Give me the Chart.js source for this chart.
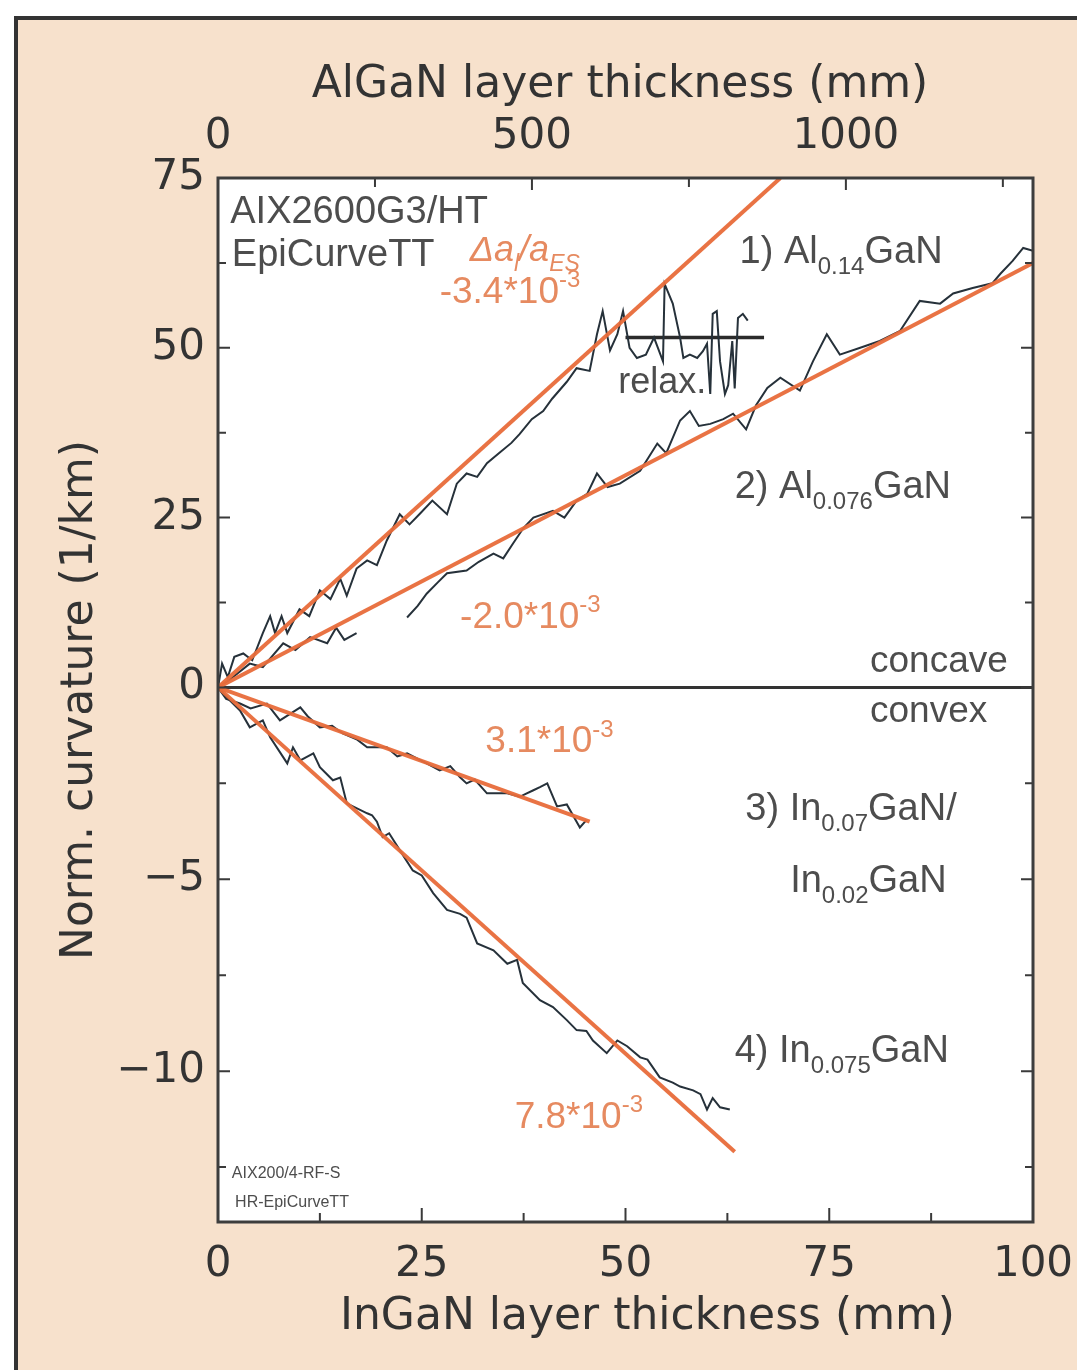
<!DOCTYPE html>
<html>
<head>
<meta charset="utf-8">
<script src="https://cdn.jsdelivr.net/npm/chart.js@4.4.0/dist/chart.umd.min.js"></script>
<style>
  html, body { margin: 0; padding: 0; background: #fff; }
  #panel { position: absolute; left: 14px; top: 16px; width: 1063px; height: 1354px;
           background: #f7e1cc; border-left: 4px solid #333; border-top: 4px solid #333; box-sizing: border-box; }
  #wrap { position: absolute; left: 0; top: 0; width: 1077px; height: 1370px; }
</style>
</head>
<body>
<div id="panel"></div>
<div id="wrap"><canvas id="curvature-graph" width="1077" height="1370"></canvas></div>
<script>
// 1) Al0.14GaN, x = InGaN-axis thickness, y = norm. curvature
var al14X = [0, 0.5, 1.2, 2.0, 3.1, 4.2, 5.5, 6.4, 7.0, 7.8, 8.5, 10.0, 11.2, 12.5, 13.8, 15.0, 15.8, 17.0, 18.3, 19.5, 20.7, 22.3, 23.5, 24.8, 26.3, 28.1, 29.3, 30.5, 31.8, 33.0, 34.5, 36.0, 37.0, 38.5, 39.9, 41.0, 42.8, 44.0, 45.6, 46.5, 47.2, 48.1, 49.0, 49.7, 50.5, 51.4, 52.5, 53.5, 54.6, 54.8, 55.8, 56.7, 57.1, 57.9, 58.8, 59.5, 60.0, 60.4, 60.7, 61.2, 61.6, 62.2, 62.6, 63.1, 63.4, 63.8, 64.4, 65.0];
var al14Y = [0, 3.5, 1.5, 4.5, 5.0, 4.0, 8.0, 10.5, 8.0, 10.5, 8.0, 11.5, 10.5, 14.3, 13.0, 16.0, 13.5, 17.5, 18.7, 18.0, 21.6, 25.5, 24.0, 25.6, 27.5, 25.5, 30.0, 31.5, 31.0, 33.0, 34.5, 36.0, 37.3, 39.5, 40.7, 42.5, 45.0, 47.0, 46.6, 52.0, 55.4, 49.6, 52.0, 55.4, 50.0, 48.5, 49.0, 51.5, 48.0, 59.4, 56.5, 51.5, 48.5, 49.0, 48.5, 49.5, 50.6, 43.2, 55.0, 55.4, 48.0, 43.2, 44.5, 51.0, 44.0, 54.4, 55.0, 54.0];

// 2) Al0.076GaN
var al076X = [0, 1.5, 3.9, 5.5, 8.0, 9.5, 11.3, 13.4, 14.5, 15.5, 17.0, 20.0, 23.2, 24.5, 25.6, 27.0, 28.1, 30.5, 32.0, 33.8, 35.0, 36.2, 37.5, 38.7, 41.1, 42.5, 44.0, 45.3, 46.5, 47.8, 49.3, 51.8, 53.9, 55.0, 56.7, 57.9, 59.0, 60.4, 62.0, 63.2, 64.8, 66.0, 67.4, 69.0, 71.4, 73.0, 74.7, 76.3, 78.8, 81.2, 83.7, 86.1, 88.6, 90.2, 92.6, 95.0, 96.0, 97.5, 98.8, 100];
var al076Y = [0, 1.2, 3.5, 3.0, 6.5, 5.5, 7.4, 6.5, 8.8, 7.0, 8.0, null, 10.3, 12.0, 13.8, 15.5, 16.8, 17.2, 18.5, 19.7, 19.0, 21.2, 23.5, 25.0, 26.0, 25.0, 27.5, 28.5, 31.5, 29.5, 30.0, 31.9, 35.9, 34.5, 39.3, 40.7, 38.5, 38.8, 39.5, 40.3, 38.0, 41.5, 44.1, 45.6, 43.7, 48.0, 52.0, 49.0, 50.0, 51.0, 52.5, 56.9, 56.5, 58.0, 58.8, 59.5, 60.9, 62.8, 64.7, 64.3];

// 3) In0.07GaN / In0.02GaN
var in07X = [0, 1.0, 2.7, 4.0, 6.0, 7.6, 10.1, 11.0, 12.5, 14.0, 15.3, 17.0, 18.3, 20.7, 22.0, 23.2, 25.6, 27.2, 28.5, 29.7, 30.5, 31.5, 33.0, 35.5, 37.0, 38.7, 39.5, 40.4, 41.6, 42.8, 44.4, 45.2];
var in07Y = [0, -0.3, -0.42, -0.55, -0.42, -0.86, -0.52, -0.75, -1.04, -1.0, -1.2, -1.35, -1.56, -1.56, -1.8, -1.72, -1.98, -2.16, -2.05, -2.34, -2.5, -2.4, -2.76, -2.76, -2.85, -2.68, -2.6, -2.5, -3.1, -3.05, -3.65, -3.46];

// 4) In0.075GaN
var in075X = [0, 1.5, 2.7, 3.9, 5.5, 6.4, 8.5, 9.2, 10.1, 11.7, 12.5, 14.1, 15.0, 15.8, 18.3, 18.9, 19.5, 20.2, 21.0, 22.3, 23.9, 25.0, 26.4, 28.1, 29.7, 30.5, 31.8, 33.8, 35.5, 36.7, 37.4, 39.5, 41.1, 42.8, 44.0, 45.2, 46.0, 47.7, 49.0, 50.2, 51.8, 52.7, 54.2, 55.8, 56.7, 58.3, 59.2, 60.0, 60.7, 61.6, 62.8];
var in075Y = [0, -0.35, -0.6, -1.04, -0.86, -1.3, -1.98, -1.56, -1.9, -1.72, -2.08, -2.42, -2.35, -3.02, -3.28, -3.33, -3.5, -3.9, -3.8, -4.24, -4.77, -4.9, -5.36, -5.8, -5.9, -6.0, -6.67, -6.85, -7.2, -7.1, -7.7, -8.15, -8.33, -8.67, -8.93, -8.95, -9.2, -9.53, -9.2, -9.35, -9.64, -9.7, -10.16, -10.3, -10.4, -10.5, -10.6, -11.0, -10.7, -10.94, -11.0];

// straight fits
var fit1X = [0, 69.0], fit1Y = [0, 75];
var fit2X = [0, 100], fit2Y = [0, 62.5];
var fit3X = [0, 45.6], fit3Y = [0, -3.5];
var fit4X = [0, 63.4], fit4Y = [0, -12.1];

var relaxX = [50.0, 67.0], relaxY = [51.5, 51.5];
var zeroX = [0, 100], zeroY = [0, 0];

// ticks
var yTicks = [75, 62.5, 50, 37.5, 25, 12.5, 0, -2.5, -5, -7.5, -10, -12.5];
var yLabelValues = [75, 50, 25, 0, -5, -10];
var yLabelText = ['75', '50', '25', '0', '\u22125', '\u221210'];
var xLabelValues = [0, 25, 50, 75, 100];
var topTicks = [0, 250, 500, 750, 1000, 1250];
var topLabelValues = [0, 500, 1000];

// below zero the axis is stretched
var LOWER_STRETCH = 5.65;
function toAxis(v) {
  if (v === null) return null;
  return v < 0 ? v * LOWER_STRETCH : v;
}
function toPoints(xs, ys) {
  return xs.map(function (x, i) { return {x: x, y: toAxis(ys[i])}; });
}

var ORANGE = 'rgba(232,108,58,0.95)';
var CURVE = '#26313a';
var NOTE_ORANGE = '#e68a60';
var NOTE_GRAY = '#4d4d4d';

var notes = [
  {x: 1.5, y: 68.4, parts: [['AIX2600G3/HT', 'n']], color: NOTE_GRAY, size: 38},
  {x: 1.7, y: 62.1, parts: [['EpiCurveTT', 'n']], color: NOTE_GRAY, size: 38},
  {x: 30.9, y: 62.8, parts: [['\u0394a', 'n'], ['l', 's'], ['/a', 'n'], ['ES', 's']], color: NOTE_ORANGE, size: 36, italic: true},
  {x: 27.2, y: 56.6, parts: [['-3.4*10', 'n'], ['-3', 'p']], color: NOTE_ORANGE, size: 37},
  {x: 64.0, y: 62.5, parts: [['1) Al', 'n'], ['0.14', 's'], ['GaN', 'n']], color: NOTE_GRAY, size: 38},
  {x: 49.1, y: 43.4, parts: [['relax.', 'n']], color: NOTE_GRAY, size: 36},
  {x: 63.4, y: 27.9, parts: [['2) Al', 'n'], ['0.076', 's'], ['GaN', 'n']], color: NOTE_GRAY, size: 38},
  {x: 29.7, y: 8.8, parts: [['-2.0*10', 'n'], ['-3', 'p']], color: NOTE_ORANGE, size: 37},
  {x: 80.0, y: 2.2, parts: [['concave', 'n']], color: NOTE_GRAY, size: 37},
  {x: 80.0, y: -0.91, parts: [['convex', 'n']], color: NOTE_GRAY, size: 37},
  {x: 32.8, y: -1.69, parts: [['3.1*10', 'n'], ['-3', 'p']], color: NOTE_ORANGE, size: 37},
  {x: 64.7, y: -3.46, parts: [['3) In', 'n'], ['0.07', 's'], ['GaN/', 'n']], color: NOTE_GRAY, size: 38},
  {x: 70.2, y: -5.34, parts: [['In', 'n'], ['0.02', 's'], ['GaN', 'n']], color: NOTE_GRAY, size: 38},
  {x: 63.4, y: -9.77, parts: [['4) In', 'n'], ['0.075', 's'], ['GaN', 'n']], color: NOTE_GRAY, size: 38},
  {x: 36.4, y: -11.48, parts: [['7.8*10', 'n'], ['-3', 'p']], color: NOTE_ORANGE, size: 37},
  {x: 1.7, y: -12.79, parts: [['AIX200/4-RF-S', 'n']], color: NOTE_GRAY, size: 16},
  {x: 2.1, y: -13.54, parts: [['HR-EpiCurveTT', 'n']], color: NOTE_GRAY, size: 16}
];

function drawRich(ctx, x, y, note) {
  var cx = x;
  note.parts.forEach(function (p) {
    var small = p[1] !== 'n';
    var fs = small ? Math.round(note.size * 0.64) : note.size;
    ctx.font = (note.italic ? 'italic ' : '') + fs + 'px "Liberation Sans", Arial, sans-serif';
    var dy = p[1] === 's' ? note.size * 0.28 : (p[1] === 'p' ? -note.size * 0.42 : 0);
    ctx.fillText(p[0], cx, y + dy);
    cx += ctx.measureText(p[0]).width;
  });
}

var framePlugin = {
  id: 'frame',
  beforeDatasetsDraw: function (chart) {
    var a = chart.chartArea, ctx = chart.ctx;
    ctx.save();
    ctx.fillStyle = '#fff';
    ctx.fillRect(a.left, a.top, a.right - a.left, a.bottom - a.top);
    ctx.restore();
  },
  afterDatasetsDraw: function (chart) {
    var a = chart.chartArea, ctx = chart.ctx;
    var sx = chart.scales.x, sx2 = chart.scales.x2, sy = chart.scales.y;
    ctx.save();
    // text notes
    ctx.textBaseline = 'alphabetic';
    ctx.textAlign = 'left';
    notes.forEach(function (n) {
      ctx.fillStyle = n.color;
      drawRich(ctx, sx.getPixelForValue(n.x), sy.getPixelForValue(toAxis(n.y)), n);
    });
    // inward ticks
    ctx.strokeStyle = '#3a3a3a';
    ctx.lineWidth = 2;
    ctx.beginPath();
    sy.ticks.forEach(function (t) {
      var py = sy.getPixelForValue(t.value);
      var len = t.label ? 12 : 8;
      ctx.moveTo(a.left, py); ctx.lineTo(a.left + len, py);
      ctx.moveTo(a.right, py); ctx.lineTo(a.right - len, py);
    });
    sx.ticks.forEach(function (t) {
      var px = sx.getPixelForValue(t.value);
      var len = t.label !== '' ? 14 : 9;
      ctx.moveTo(px, a.bottom); ctx.lineTo(px, a.bottom - len);
    });
    sx2.ticks.forEach(function (t) {
      var px = sx2.getPixelForValue(t.value);
      var len = t.label !== '' ? 12 : 9;
      ctx.moveTo(px, a.top); ctx.lineTo(px, a.top + len);
    });
    ctx.stroke();
    // frame
    ctx.lineWidth = 3;
    ctx.strokeStyle = '#3d3d3d';
    ctx.strokeRect(a.left, a.top, a.right - a.left, a.bottom - a.top);
    ctx.restore();
  }
};

function curve(xs, ys, color, width, order) {
  return {
    data: toPoints(xs, ys),
    borderColor: color,
    borderWidth: width,
    pointRadius: 0,
    tension: 0,
    spanGaps: false,
    order: order
  };
}

function noSidePadding(s) {
  s.paddingLeft = 0;
  s.paddingRight = 0;
}

var tickFont = {family: '"DejaVu Sans", Verdana, sans-serif', size: 42};
var titleFont = {family: '"DejaVu Sans", Verdana, sans-serif', size: 44};

const config = {
  type: 'line',
  data: {
    datasets: [
      curve(fit1X, fit1Y, ORANGE, 4, 1),
      curve(fit2X, fit2Y, ORANGE, 4, 1),
      curve(fit3X, fit3Y, ORANGE, 4, 1),
      curve(fit4X, fit4Y, ORANGE, 4, 1),
      curve(al14X, al14Y, CURVE, 2, 2),
      curve(al076X, al076Y, CURVE, 2, 2),
      curve(in07X, in07Y, CURVE, 2, 2),
      curve(in075X, in075Y, CURVE, 2, 2),
      curve(relaxX, relaxY, '#2b2b2b', 3.5, 2),
      curve(zeroX, zeroY, '#333', 3, 3)
    ]
  },
  options: {
    responsive: false,
    animation: false,
    devicePixelRatio: 1,
    layout: {padding: {left: 0, right: 44, top: 0, bottom: 0}},
    plugins: {legend: {display: false}, tooltip: {enabled: false}},
    scales: {
      x: {
        type: 'linear', position: 'bottom', min: 0, max: 100,
        grid: {display: false, drawTicks: false}, border: {display: false},
        ticks: {
          stepSize: 12.5, autoSkip: false, maxRotation: 0, padding: 18,
          font: tickFont, color: '#333',
          callback: function (v) { return xLabelValues.indexOf(v) >= 0 ? String(v) : ''; }
        },
        title: {display: true, text: '\u2003InGaN layer thickness (mm)', font: titleFont, color: '#333', padding: {top: 0, bottom: 26}},
        afterFit: function (s) { s.height = 148; noSidePadding(s); }
      },
      x2: {
        type: 'linear', position: 'top', min: 0, max: 1298,
        grid: {display: false, drawTicks: false}, border: {display: false},
        afterBuildTicks: function (s) {
          s.ticks = topTicks.map(function (v) { return {value: v}; });
        },
        ticks: {
          autoSkip: false, maxRotation: 0, padding: 16,
          font: tickFont, color: '#333',
          callback: function (v) { return topLabelValues.indexOf(v) >= 0 ? String(v) : ''; }
        },
        title: {display: true, text: 'AlGaN layer thickness (mm)\u2005', font: titleFont, color: '#333', padding: {top: 59, bottom: 0}},
        afterFit: function (s) { s.height = 178; noSidePadding(s); }
      },
      y: {
        type: 'linear', position: 'left', min: toAxis(-13.93), max: 75,
        grid: {display: false, drawTicks: false}, border: {display: false},
        afterBuildTicks: function (s) {
          s.ticks = yTicks.map(function (v) { return {value: toAxis(v)}; });
        },
        ticks: {
          autoSkip: false, padding: 13, font: tickFont, color: '#333',
          callback: function (value) {
            var real = value < 0 ? value / LOWER_STRETCH : value;
            for (var i = 0; i < yLabelValues.length; i++) {
              if (Math.abs(yLabelValues[i] - real) < 1e-6) return yLabelText[i];
            }
            return '';
          }
        },
        title: {display: true, text: 'Norm. curvature (1/km)', font: titleFont, color: '#333', padding: {top: 54, bottom: 0}},
        afterFit: function (s) { s.width = 218; }
      }
    }
  },
  plugins: [framePlugin]
};

const myChart = new Chart(document.getElementById('curvature-graph'), config);
</script>
</body>
</html>
